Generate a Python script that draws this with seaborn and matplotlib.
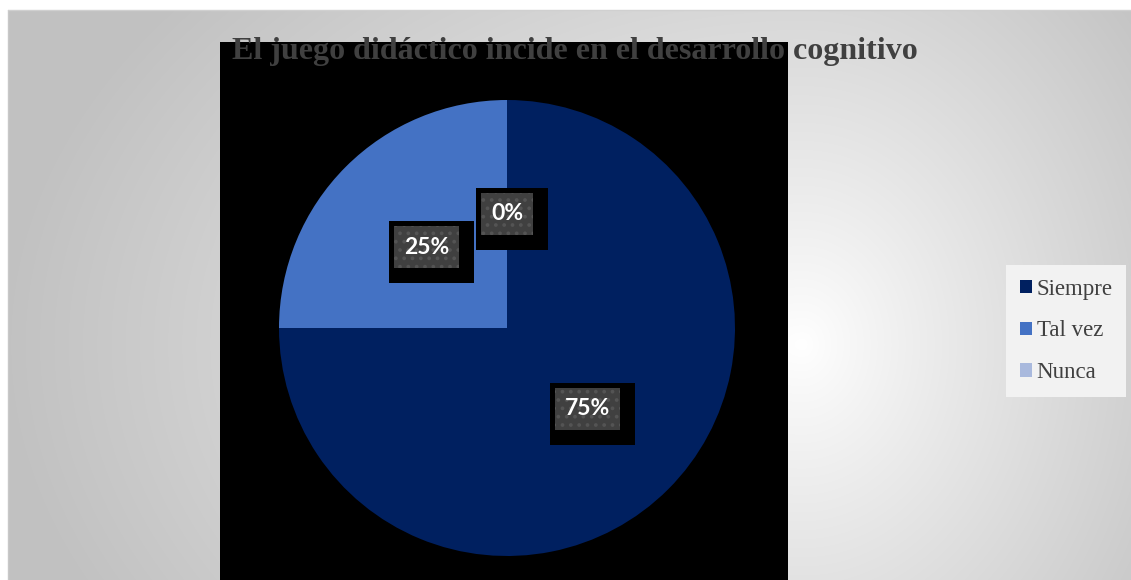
import numpy as np
import matplotlib
matplotlib.use("Agg")
import matplotlib.pyplot as plt
import seaborn as sns
from matplotlib.patches import Rectangle

# ---- data ----
categories = ["Siempre", "Tal vez", "Nunca"]
values = [75, 25, 0]
pct_labels = ["75%", "25%", "0%"]
title = "El juego didáctico incide en el desarrollo cognitivo"
colors = ["#002060", "#4472C4", "#A9B9DD"]

sns.set_theme(style="white")
plt.rcParams["hatch.linewidth"] = 1.5

W, H = 1131, 580
fig = plt.figure(figsize=(W / 100, H / 100), dpi=100, facecolor="white")

# ---- gradient background ----
bg = fig.add_axes([0, 0, 1, 1])
bg.set_xlim(0, W)
bg.set_ylim(H, 0)
bg.axis("off")
xx, yy = np.meshgrid(np.arange(W), np.arange(H))
cx, cy = 800, 340
sx = np.where(xx < cx, 800.0, 460.0)
r = np.sqrt(((xx - cx) / sx) ** 2 + ((yy - cy) / 560.0) ** 2)
val = 1 - 0.24 * np.clip(r, 0, 1) ** 0.9
val = np.clip(val, 0, 1)
img = np.dstack([val, val, val])
bg.imshow(img, extent=(8, W, H, 10), aspect="auto", interpolation="bilinear")
bg.plot([7.5, 7.5], [9.5, H], color="#c8c8c8", lw=1)
bg.plot([7.5, W], [9.5, 9.5], color="#d0d0d0", lw=1)

# ---- pie axes (black plot area) ----
x0, x1, ytop = 220, 788, 42
ax = fig.add_axes([x0 / W, 0, (x1 - x0) / W, (H - ytop) / H])
cxp, cyp, rad = 507, H - 328, 228
wedges, _ = ax.pie(values, colors=colors, startangle=90, counterclock=False,
                   center=(cxp, cyp), radius=rad, frame=True,
                   wedgeprops=dict(linewidth=0))
ax.set_xlim(x0, x1)
ax.set_ylim(0, H - ytop)
ax.set_aspect("auto")
ax.set_facecolor("black")
for s in ax.spines.values():
    s.set_visible(False)
ax.set_xticks([])
ax.set_yticks([])

fig.canvas.draw()
renderer = fig.canvas.get_renderer()
for w, lab in zip(wedges, pct_labels):
    ang = np.deg2rad((w.theta1 + w.theta2) / 2)
    px = cxp + 0.5 * rad * np.cos(ang)
    py = cyp + 0.5 * rad * np.sin(ang)
    t = ax.text(px, py, lab, ha="center", va="center", color="white",
                fontsize=16.5, fontweight="bold", family="Lato", zorder=6)
    bb = t.get_window_extent(renderer)
    tw = bb.width
    iw, ih = tw + 19, 42
    ix0, iy0 = px - iw / 2, py - ih / 2
    ax.add_patch(Rectangle((ix0 - 5, iy0 - 15), iw + 20, ih + 20,
                           facecolor="black", edgecolor="none", zorder=4))
    ax.add_patch(Rectangle((ix0, iy0), iw, ih, facecolor="#404040",
                           edgecolor="#545454", hatch="..", linewidth=0,
                           zorder=5))

# ---- title ----
fig.text(575 / W, 1 - 51 / H, title, ha="center", va="center",
         fontsize=23, fontweight="bold", family="Liberation Serif",
         color="#404040", zorder=10)

# ---- legend ----
leg = fig.legend(wedges, categories, loc="upper left",
                 bbox_to_anchor=(1006 / W, 1 - 265 / H),
                 prop=dict(family="Liberation Serif", size=16.5),
                 frameon=True, fancybox=False, facecolor="#f2f2f2",
                 edgecolor="none", framealpha=1, handlelength=0.52,
                 handleheight=0.52, handletextpad=0.22, labelspacing=0.9,
                 borderpad=0.6, borderaxespad=0)
for txt in leg.get_texts():
    txt.set_color("#404040")

fig.savefig("out.png", dpi=100, facecolor="white")
